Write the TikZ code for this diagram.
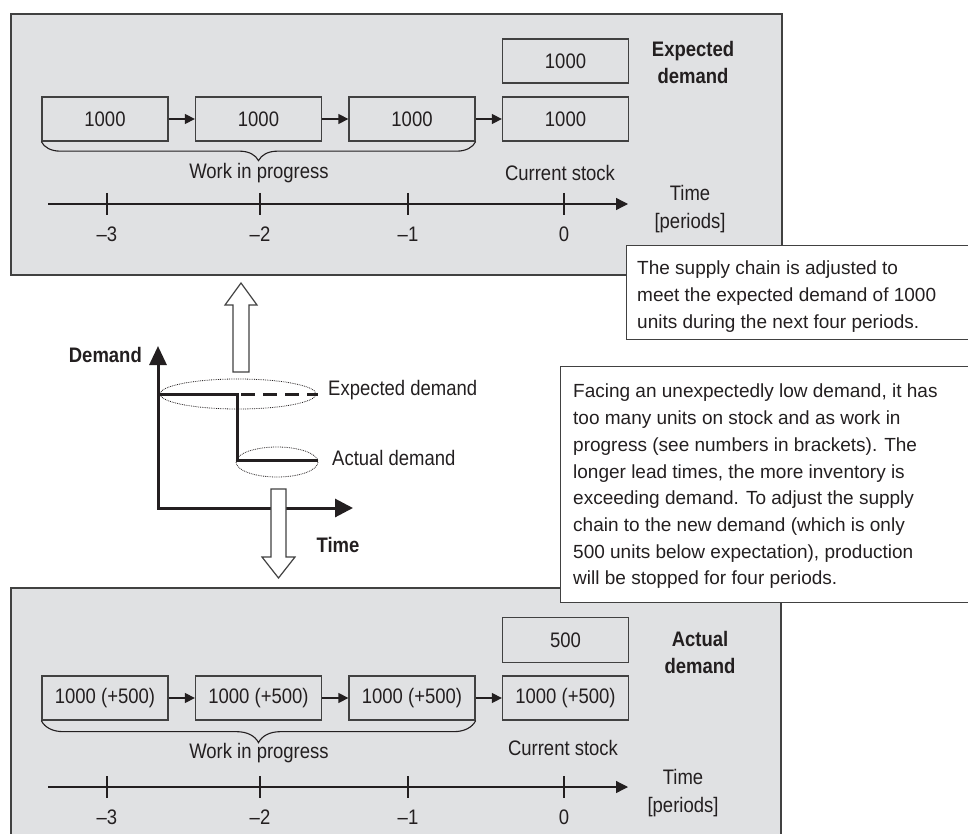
\documentclass[tikz,border=0pt]{standalone}
\usepackage{fontspec}
\setmainfont{Liberation Sans}
\newfontfamily\narrowfont[FakeStretch=0.88]{Liberation Sans}
\usepackage{xcolor}
\usepackage{tikz}
\usetikzlibrary{arrows.meta,decorations.pathreplacing,positioning}
\definecolor{panelgray}{RGB}{224,225,227}
\definecolor{linegray}{RGB}{65,65,65}
\definecolor{inkblack}{RGB}{35,31,32}
\tikzset{
panel/.style={draw=linegray,line width=1.5pt,fill=panelgray},
stockbox/.style={draw=linegray,line width=1.3pt,minimum width=126pt,minimum height=44pt,inner sep=0pt,font=\narrowfont\fontsize{21}{25}\selectfont},
flow/.style={draw=inkblack,line width=1.3pt,-{Triangle[length=10pt,width=10pt]}},
lbl/.style={font=\narrowfont\fontsize{21}{28}\selectfont,align=center,inner sep=0pt},
boldlbl/.style={lbl,font=\narrowfont\bfseries\fontsize{21}{27}\selectfont},
note/.style={draw=linegray,line width=1.3pt,fill=white,inner sep=0pt,anchor=north west},
notetext/.style={font=\fontsize{19}{26.7}\selectfont,align=left,inner sep=0pt,anchor=north west},
timeaxis/.style={draw=inkblack,line width=1.3pt,-{Triangle[length=12pt,width=12pt]}},
tick/.style={draw=inkblack,line width=1.2pt},
brace/.style={draw=inkblack,line width=1.1pt,decorate,decoration={brace,mirror,amplitude=#1}},
graphline/.style={draw=inkblack,line width=3pt},
band/.style={draw=inkblack,densely dotted,line width=0.8pt},
blockarrow/.style={draw=linegray,line width=1.2pt,fill=white}
}
\begin{document}
\begin{tikzpicture}[x=1pt,y=-1pt,text=inkblack]
\useasboundingbox (0,0) rectangle (968,834);
% expected situation
\draw[panel] (11,14) rectangle (782,275);
\node[stockbox] (edem) at (565.5,61) {1000};
\node[boldlbl] (edemlbl) at (693,62) {Expected\\demand};
\node[stockbox] (e1) at (105,119) {1000};
\node[stockbox] (e2) at (258.5,119) {1000};
\node[stockbox] (e3) at (412,119) {1000};
\node[stockbox] (e4) at (565.5,119) {1000};
\draw[flow] (e1) -- (e2);
\draw[flow] (e2) -- (e3);
\draw[flow] (e3) -- (e4);
\draw[brace=19pt] (e1.south west) -- (e3.south east);
\node[lbl] (ewip) at (259,173) {Work in progress};
\node[lbl] (estock) at (560,173) {Current stock};
\draw[timeaxis] (48,204) -- (628,204);
\draw[tick] (107,193) -- (107,215) (260,193) -- (260,215)
(408,193) -- (408,215) (564,193) -- (564,215);
\node[lbl] (et3) at (107,234) {\textendash3};
\node[lbl] (et2) at (260,234) {\textendash2};
\node[lbl] (et1) at (408,234) {\textendash1};
\node[lbl] (et0) at (564,234) {0};
\node[lbl] (etime) at (690,209) {Time\\{[periods]}};

% actual situation
\draw[panel] (11,588) rectangle (781,850);
\node[stockbox,minimum height=45pt] (adem) at (565.5,640) {500};
\node[boldlbl] (ademlbl) at (700,652) {Actual\\demand};
\node[stockbox] (a1) at (105,698) {1000 (+500)};
\node[stockbox] (a2) at (258.5,698) {1000 (+500)};
\node[stockbox] (a3) at (412,698) {1000 (+500)};
\node[stockbox] (a4) at (565.5,698) {1000 (+500)};
\draw[flow] (a1) -- (a2);
\draw[flow] (a2) -- (a3);
\draw[flow] (a3) -- (a4);
\draw[brace=22pt] (a1.south west) -- (a3.south east);
\node[lbl] (awip) at (259,753) {Work in progress};
\node[lbl] (astock) at (563,748) {Current stock};
\draw[timeaxis] (48,787) -- (628,787);
\draw[tick] (107,776) -- (107,798) (260,776) -- (260,798)
(408,776) -- (408,798) (564,776) -- (564,798);
\node[lbl] (at3) at (107,817) {\textendash3};
\node[lbl] (at2) at (260,817) {\textendash2};
\node[lbl] (at1) at (408,817) {\textendash1};
\node[lbl] (at0) at (564,817) {0};
\node[lbl] (atime) at (683,793) {Time\\{[periods]}};

% demand graph
\draw[graphline,{Triangle[length=19pt,width=17pt]}-{Triangle[length=18pt,width=18pt]}]
(158,346) -- (158,508) -- (353,508);
\node[boldlbl,anchor=east] (demlbl) at (142,355) {Demand};
\node[boldlbl] (timlbl) at (338,545) {Time};
\draw[graphline] (158,394) -- (237,394) -- (237,460) -- (318,460);
\draw[graphline,dash pattern=on 14pt off 8pt] (241,394) -- (318,394);
\draw[band] (238,394) ellipse [x radius=78, y radius=15];
\draw[band] (277,462) ellipse [x radius=41, y radius=15];
\node[lbl,anchor=west] (explbl) at (328,390) {Expected demand};
\node[lbl,anchor=west] (actlbl) at (332,458) {Actual demand};
\draw[blockarrow] (233,372) -- (233,305) -- (225,305) -- (241,283) -- (257,305)
-- (249,305) -- (249,372) -- cycle;
\draw[blockarrow] (271,489) -- (271,557) -- (262,557) -- (278.5,578) -- (295,557)
-- (286,557) -- (286,489) -- cycle;

% comments
\node[note,minimum width=350pt,minimum height=94pt] (note1) at (626,245) {};
\node[notetext] (note1text) at (637,261) {The supply chain is adjusted to\\
meet the expected demand of 1000\\units during the next four periods.};
\node[note,minimum width=415pt,minimum height=236pt] (note2) at (560,366) {};
\node[notetext] (note2text) at (573,384) {Facing an unexpectedly low demand, it has\\
too many units on stock and as work in\\progress (see numbers in brackets). The\\
longer lead times, the more inventory is\\exceeding demand. To adjust the supply\\
chain to the new demand (which is only\\500 units below expectation), production\\
will be stopped for four periods.};
\end{tikzpicture}
\end{document}
